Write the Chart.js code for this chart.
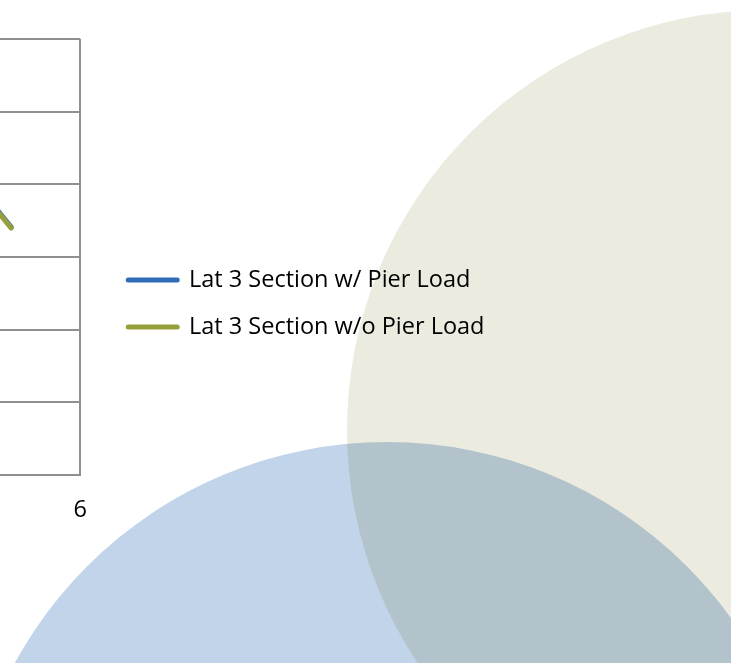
<!DOCTYPE html>
<html><head><meta charset="utf-8">
<script src="https://cdn.jsdelivr.net/npm/chart.js@4.4.1/dist/chart.umd.min.js"></script>
<style>
html,body{margin:0;padding:0;width:731px;height:663px;overflow:hidden;background:#fff;position:relative}
.circle{position:absolute;border-radius:50%}
#beige{left:347px;top:10px;width:840px;height:840px;background:#EBEBDF}
#blue{left:-37px;top:442px;width:848px;height:848px;background:#C1D4E9;mix-blend-mode:multiply}
#c{position:absolute;left:-620px;top:0}
</style></head><body>
<div class="circle" id="beige"></div><div class="circle" id="blue"></div>
<canvas id="c" width="1351" height="568"></canvas>
<script>
const seriesNames = ['Lat 3 Section w/ Pier Load', 'Lat 3 Section w/o Pier Load'];
const xValues = [0, 1, 2, 3, 4, 5, 5.35];
const withPierLoad = [0.1, 8.1, 15.1, 20.1, 22.6, 20.21, 17.06];
const withoutPierLoad = [0, 8, 15, 20, 22.5, 20.14, 16.99];
const xTicks = [0, 1, 2, 3, 4, 5, 6];
const yTicks = [0, 5, 10, 15, 20, 25, 30];

const FONT = {family: 'Open Sans', size: 23.5};
const GRID = '#8f8f8f';
const toPts = (ys) => xValues.map((x, i) => ({x: x, y: ys[i]}));

// legend layout sizes
const LEG_PAD = 47 - FONT.size, BOX_W = 49, GAP_W = 48 - LEG_PAD, PLOT_RIGHT = 80, PAGE_W = 731;
const mctx = document.createElement('canvas').getContext('2d');
mctx.font = FONT.size + 'px ' + FONT.family;
const textW = Math.max(...seriesNames.map(s => mctx.measureText(s).width));
const legendW = Math.ceil(LEG_PAD + BOX_W + FONT.size / 2 + textW + 10);
const padRight = PAGE_W - PLOT_RIGHT - GAP_W - legendW;

new Chart(document.getElementById('c'), {
  type: 'line',
  data: {
    datasets: [
      {label: seriesNames[0], data: toPts(withPierLoad), borderColor: '#2E6CB7', backgroundColor: '#2E6CB7',
       pointBorderColor: '#2E6CB7', pointBorderWidth: 5, borderWidth: 5, borderCapStyle: 'round', borderJoinStyle: 'round',
       pointRadius: 0, pointStyle: 'line', order: 1, tension: 0},
      {label: seriesNames[1], data: toPts(withoutPierLoad), borderColor: '#98A03C', backgroundColor: '#98A03C',
       pointBorderColor: '#98A03C', pointBorderWidth: 5, borderWidth: 5, borderCapStyle: 'round', borderJoinStyle: 'round',
       pointRadius: 0, pointStyle: 'line', order: 0, tension: 0}
    ]
  },
  options: {
    responsive: false, animation: false, devicePixelRatio: 1,
    layout: {padding: {left: 20, right: padRight, top: 39, bottom: 0}},
    plugins: {
      tooltip: {enabled: false},
      legend: {
        position: 'right', align: 'center', maxWidth: legendW + 2,
        labels: {
          usePointStyle: true, pointStyle: 'line', pointStyleWidth: BOX_W, padding: LEG_PAD,
          color: '#000', font: FONT,
          sort: (a, b) => a.datasetIndex - b.datasetIndex,
          generateLabels: (chart) => Chart.defaults.plugins.legend.labels.generateLabels(chart)
            .map(l => Object.assign(l, {lineCap: 'round'}))
        }
      }
    },
    scales: {
      x: {
        type: 'linear', min: xTicks[0], max: xTicks[xTicks.length - 1],
        afterBuildTicks: (s) => { s.ticks = xTicks.map(v => ({value: v})); },
        afterFit: (s) => { s.height = 93; },
        ticks: {padding: 21, color: '#000', font: FONT, maxRotation: 0},
        grid: {color: GRID, lineWidth: 2, drawTicks: false},
        border: {color: GRID, width: 2}
      },
      y: {
        type: 'linear', min: yTicks[0], max: yTicks[yTicks.length - 1],
        afterBuildTicks: (s) => { s.ticks = yTicks.map(v => ({value: v})); },
        ticks: {padding: 8, color: '#000', font: FONT},
        grid: {color: GRID, lineWidth: 2, drawTicks: false},
        border: {color: GRID, width: 2}
      },
      gap: {
        type: 'linear', position: 'right', display: true,
        ticks: {display: false}, grid: {display: false, drawTicks: false}, border: {display: false},
        afterFit: (s) => { s.width = GAP_W; }
      }
    }
  }
});
</script>
</body></html>
